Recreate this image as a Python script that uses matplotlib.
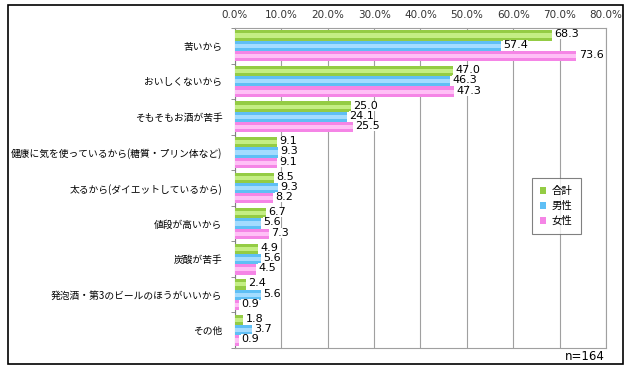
import numpy as np
import matplotlib
matplotlib.use('Agg')
import matplotlib.pyplot as plt
from matplotlib.patches import Rectangle

plt.rcParams['font.family'] = ['Noto Sans CJK JP', 'DejaVu Sans']

categories = ['苦いから', 'おいしくないから', 'そもそもお酒が苦手',
              '健康に気を使っているから(糖質・プリン体など)',
              '太るから(ダイエットしているから)', '値段が高いから', '炭酸が苦手',
              '発泡酒・第3のビールのほうがいいから', 'その他']
total = [68.3, 47.0, 25.0, 9.1, 8.5, 6.7, 4.9, 2.4, 1.8]
male = [57.4, 46.3, 24.1, 9.3, 9.3, 5.6, 5.6, 5.6, 3.7]
female = [73.6, 47.3, 25.5, 9.1, 8.2, 7.3, 4.5, 0.9, 0.9]
series_names = ['合計', '男性', '女性']
xticks = [0, 10, 20, 30, 40, 50, 60, 70, 80]

base_cols = ['#94cc44', '#5fbff5', '#f585e6']
light_cols = ['#c4ee84', '#a4dcff', '#ffc0f6']

fig = plt.figure(figsize=(6.29, 3.71), dpi=100)
ax = fig.add_axes([0.3736, 0.062, 0.5898, 0.8625])

y = np.arange(len(categories))
bh = 0.29
for k, vals in enumerate([total, male, female]):
    pos = y + (k - 1) * bh
    ax.barh(pos, vals, height=bh, color=base_cols[k], zorder=3, label=series_names[k])
    ax.barh(pos, vals, height=bh * 0.4, color=light_cols[k], zorder=3)
    for p, v in zip(pos, vals):
        ax.text(v + 0.5, p - 0.03, '%.1f' % v, va='center', ha='left', fontsize=8,
                family='DejaVu Sans', zorder=4,
                bbox=dict(facecolor='white', edgecolor='none', pad=0))

ax.set_xlim(0, 80)
ax.set_ylim(len(categories) - 0.5, -0.5)
ax.set_xticks(xticks)
ax.set_xticklabels(['%.1f%%' % t for t in xticks], fontsize=7.5, color='#333333',
                   family='DejaVu Sans')
ax.xaxis.tick_top()
ax.tick_params(axis='x', length=0, pad=6)
ax.set_yticks(y)
ax.set_yticklabels(categories, fontsize=7)
ax.set_yticks(np.arange(len(categories) + 1) - 0.5, minor=True)
ax.tick_params(axis='y', which='major', length=0, pad=9)
ax.tick_params(axis='y', which='minor', length=3, color='#808080')
ax.grid(axis='x', color='#a0a0a0', linewidth=0.8, zorder=0)
for s in ax.spines.values():
    s.set_color('#a0a0a0')
ax.spines['left'].set_color('#808080')

leg = ax.legend(loc='upper left', bbox_to_anchor=(0.80, 0.531), fontsize=7.5,
                handlelength=0.6, handleheight=0.6, handletextpad=0.5,
                fancybox=False, edgecolor='#606060', borderpad=0.8, labelspacing=0.45,
                borderaxespad=0)
leg.get_frame().set_linewidth(0.8)

fig.text(605 / 629, 1 - 356 / 371, 'n=164', ha='right', va='center', fontsize=8.5,
         family='DejaVu Sans')

fig.patches.append(Rectangle((8 / 629, 1 - 364 / 371), 615 / 629, 359 / 371,
                             transform=fig.transFigure, fill=False,
                             edgecolor='black', linewidth=1.2))

fig.savefig('out.png', dpi=100)
